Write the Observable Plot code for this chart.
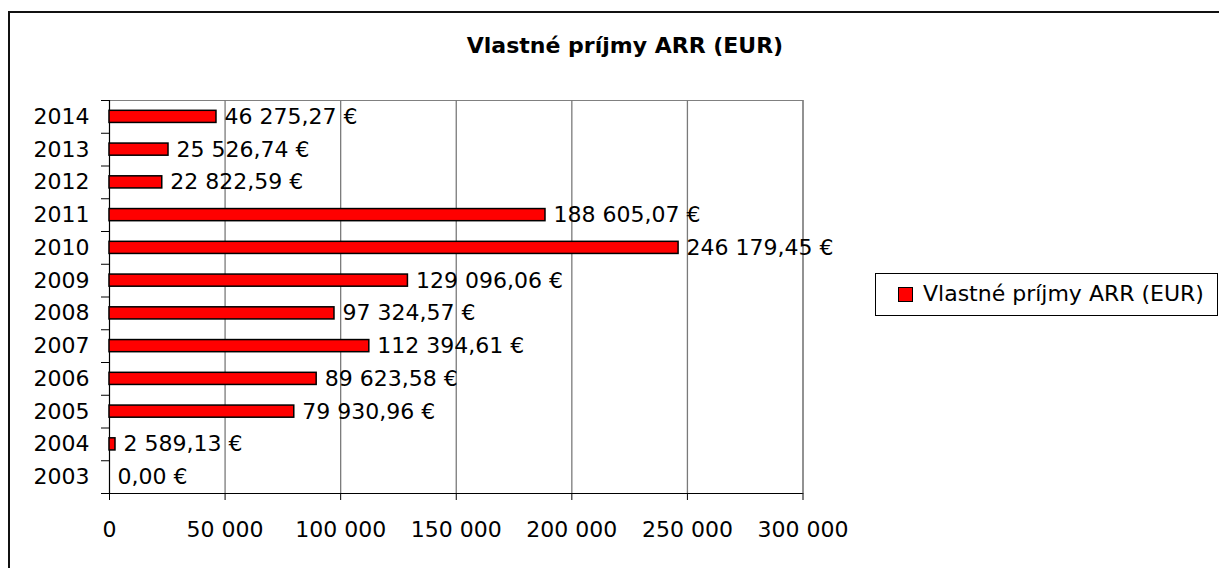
<!DOCTYPE html>
<html><head><meta charset="utf-8">
<script src="https://cdn.jsdelivr.net/npm/d3@7"></script>
<script src="https://cdn.jsdelivr.net/npm/@observablehq/plot@0.6"></script>
<style>
html,body{margin:0;padding:0;background:#fff;overflow:hidden}
#wrap{position:relative;width:1219px;height:568px;overflow:hidden;font-family:"DejaVu Sans",sans-serif;color:#000}
#frame{position:absolute;left:8px;top:11px;width:1400px;height:800px;border:2px solid #111;box-sizing:border-box}
#title{position:absolute;left:0;width:1250px;top:35px;text-align:center;font-weight:bold;font-size:22px;line-height:22px;white-space:nowrap}
#chart{position:absolute;left:0;top:0}
#legend{position:absolute;left:875px;top:273px;width:343px;height:43px;border:1px solid #000;box-sizing:border-box;background:#fff}
#legend .sw{position:absolute;left:22px;top:13px;width:15px;height:15px;background:#ff0000;border:1.5px solid #000;box-sizing:border-box}
#legend .lt{position:absolute;left:47px;top:0;line-height:40px;font-size:22px;white-space:nowrap}
</style></head><body>
<div id="wrap">
  <div id="frame"></div>
  <div id="chart"></div>
  <div id="title"></div>
  <div id="legend"><span class="sw"></span><span class="lt"></span></div>
</div>
<script>
const chartTitle = "Vlastné príjmy ARR (EUR)";
const seriesName = "Vlastné príjmy ARR (EUR)";
const years = ["2003","2004","2005","2006","2007","2008","2009","2010","2011","2012","2013","2014"];
const values = [0, 2589.13, 79930.96, 89623.58, 112394.61, 97324.57, 129096.06, 246179.45, 188605.07, 22822.59, 25526.74, 46275.27];
const xTicks = [0, 50000, 100000, 150000, 200000, 250000, 300000];

document.getElementById("title").textContent = chartTitle;
document.querySelector("#legend .lt").textContent = seriesName;

const data = years.map((y, i) => ({year: y, value: values[i]}));
const loc = d3.formatLocale({decimal: ",", thousands: " ", grouping: [3], currency: ["", " €"]});
const fmtTick = loc.format(",.0f");
const fmtEur = loc.format("$,.2f");

const W = 1219, H = 568, mL = 109, mR = 416.5, mT = 100, mB = 75;
const step = (H - mT - mB) / years.length;
const pxPerUnit = (W - mL - mR) / 300000;
const tickLen = 8 / pxPerUnit;

const plot = Plot.plot({
  width: W, height: H,
  marginLeft: mL, marginRight: mR, marginTop: mT, marginBottom: mB,
  style: {fontFamily: "DejaVu Sans", fontSize: "22px", color: "#000", background: "transparent", overflow: "visible"},
  x: {domain: [0, 300000]},
  y: {domain: years.slice().reverse(), paddingInner: 0.63, paddingOuter: 0.315, round: false},
  marks: [
    Plot.frame({stroke: "#808080"}),
    Plot.ruleX(xTicks.filter(d => d > 0), {stroke: "#7a7a7a", strokeWidth: 1.3}),
    Plot.ruleY(years, {y: d => d, dy: -step / 2, x1: -tickLen, x2: 0, stroke: "#000"}),
    Plot.ruleY([years[0]], {y: d => d, dy: step / 2, x1: -tickLen, x2: 300000, stroke: "#000", strokeWidth: 1.2}),
    Plot.ruleX([0], {stroke: "#000", strokeWidth: 1.2}),
    Plot.barX(data, {x: "value", y: "year", fill: "#ff0000", stroke: "#000", strokeWidth: 1.5}),
    Plot.text(data, {x: "value", y: "year", text: d => fmtEur(d.value), textAnchor: "start", dx: 8, fontSize: 22}),
    Plot.axisX({ticks: xTicks, tickSize: 7, tickPadding: 21, tickFormat: fmtTick, fontSize: 22, label: null}),
    Plot.axisY({tickSize: 0, tickPadding: 20, fontSize: 22, label: null})
  ]
});
document.getElementById("chart").appendChild(plot);
</script>
</body></html>
